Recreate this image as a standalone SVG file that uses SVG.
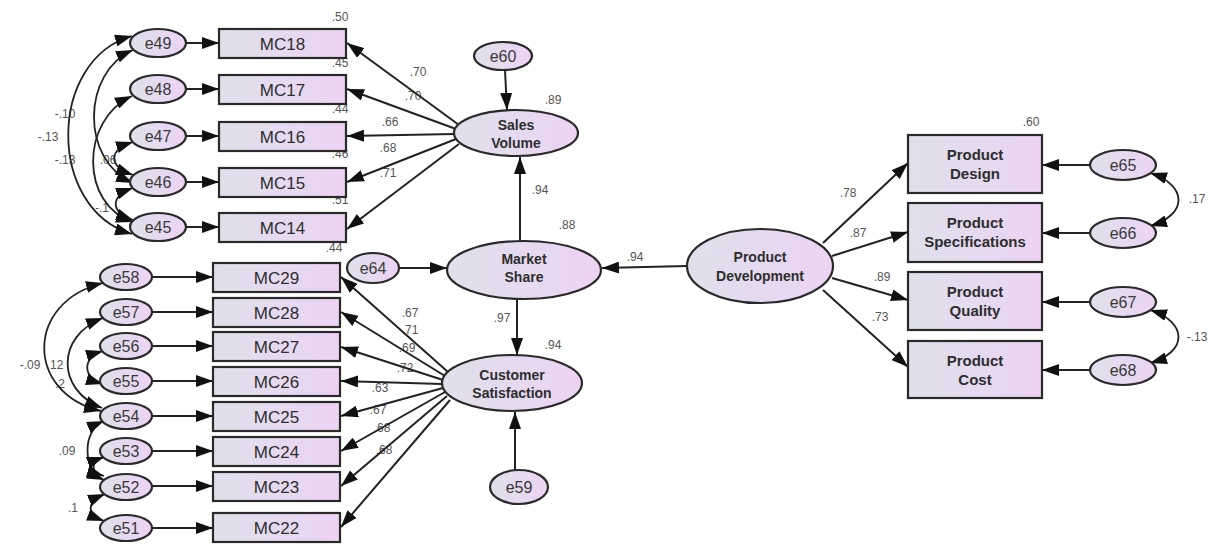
<svg xmlns="http://www.w3.org/2000/svg" width="1211" height="544" viewBox="0 0 1211 544">
<defs>
<linearGradient id="g" x1="0" y1="0" x2="1" y2="0">
<stop offset="0" stop-color="#dfe0ec"/>
<stop offset="1" stop-color="#edd3f3"/>
</linearGradient>
<marker id="ah" markerUnits="userSpaceOnUse" markerWidth="17" markerHeight="12" refX="17" refY="6" orient="auto-start-reverse">
<path d="M0,0 L17,6 L0,12 z" fill="#111"/>
</marker>
</defs>
<style>
rect.box{fill:url(#g);stroke:#2a2a2a;stroke-width:2.2}
ellipse.ov{fill:url(#g);stroke:#2a2a2a;stroke-width:2.2}
.mc{font-family:"Liberation Sans",Arial,sans-serif;font-size:17px;fill:#2e2e2e;text-anchor:middle}
.e{font-family:"Liberation Sans",Arial,sans-serif;font-size:16px;fill:#3a3a3a;text-anchor:middle}
.lv{font-family:"Liberation Sans",Arial,sans-serif;font-size:14px;font-weight:bold;fill:#2e2e2e;text-anchor:middle}
.pb{font-family:"Liberation Sans",Arial,sans-serif;font-size:15px;font-weight:bold;fill:#2e2e2e;text-anchor:middle}
.n{font-family:"Liberation Sans",Arial,sans-serif;font-size:12px;fill:#555;text-anchor:middle}
.a{fill:none;stroke:#222;stroke-width:2;marker-end:url(#ah)}
.cv{fill:none;stroke:#222;stroke-width:1.8;marker-start:url(#ah);marker-end:url(#ah)}
</style>
<rect width="1211" height="544" fill="#fff"/>

<g id="labels">
<text class="n" x="340" y="21">.50</text>
<text class="n" x="340" y="67">.45</text>
<text class="n" x="340" y="113">.44</text>
<text class="n" x="340" y="158">.46</text>
<text class="n" x="340" y="204">.51</text>
<text class="n" x="334" y="252">.44</text>
<text class="n" x="329" y="289">.56</text>
<text class="n" x="329" y="324">.49</text>
<text class="n" x="329" y="359">.52</text>
<text class="n" x="329" y="393">.39</text>
<text class="n" x="329" y="428">.44</text>
<text class="n" x="329" y="463">.46</text>
<text class="n" x="329" y="501">.47</text>
<text class="n" x="418" y="76">.70</text>
<text class="n" x="413" y="100">.70</text>
<text class="n" x="390" y="126">.66</text>
<text class="n" x="388" y="152">.68</text>
<text class="n" x="388" y="177">.71</text>
<text class="n" x="410" y="317">.67</text>
<text class="n" x="410" y="334">.71</text>
<text class="n" x="407" y="352">.69</text>
<text class="n" x="405" y="372">.72</text>
<text class="n" x="380" y="392">.63</text>
<text class="n" x="378" y="414">.67</text>
<text class="n" x="382" y="432">.68</text>
<text class="n" x="384" y="454">.68</text>
<text class="n" x="553" y="104">.89</text>
<text class="n" x="540" y="194">.94</text>
<text class="n" x="567" y="229">.88</text>
<text class="n" x="502" y="322">.97</text>
<text class="n" x="553" y="349">.94</text>
<text class="n" x="635" y="261">.94</text>
<text class="n" x="848" y="197">.78</text>
<text class="n" x="858" y="237">.87</text>
<text class="n" x="882" y="281">.89</text>
<text class="n" x="880" y="321">.73</text>
<text class="n" x="1031" y="126">.60</text>
<text class="n" x="1030" y="193">.75</text>
<text class="n" x="1030" y="262">.79</text>
<text class="n" x="1030" y="331">.54</text>
<text class="n" x="1197" y="203">.17</text>
<text class="n" x="1197" y="341">-.13</text>
<text class="n" x="65" y="118">-.10</text>
<text class="n" x="48" y="141">-.13</text>
<text class="n" x="65" y="164">-.13</text>
<text class="n" x="108" y="164">.06</text>
<text class="n" x="102" y="212">-.1</text>
<text class="n" x="30" y="369">-.09</text>
<text class="n" x="55" y="369">.12</text>
<text class="n" x="60" y="388">.2</text>
<text class="n" x="67" y="455">.09</text>
<text class="n" x="73" y="512">.1</text>
</g>

<g id="connectors">
<line class="a" x1="186" y1="43" x2="219" y2="43"/>
<line class="a" x1="186" y1="89" x2="219" y2="89"/>
<line class="a" x1="186" y1="136" x2="219" y2="136"/>
<line class="a" x1="186" y1="182" x2="219" y2="182"/>
<line class="a" x1="186" y1="227" x2="219" y2="227"/>
<line class="a" x1="152" y1="277" x2="213" y2="277"/>
<line class="a" x1="152" y1="312" x2="213" y2="312"/>
<line class="a" x1="152" y1="346" x2="213" y2="346"/>
<line class="a" x1="152" y1="381" x2="213" y2="381"/>
<line class="a" x1="152" y1="416" x2="213" y2="416"/>
<line class="a" x1="152" y1="451" x2="213" y2="451"/>
<line class="a" x1="152" y1="486" x2="213" y2="486"/>
<line class="a" x1="152" y1="528" x2="213" y2="528"/>
<line class="a" x1="459" y1="125" x2="347" y2="43"/>
<line class="a" x1="456" y1="129" x2="347" y2="89"/>
<line class="a" x1="455" y1="134" x2="347" y2="136"/>
<line class="a" x1="456" y1="139" x2="347" y2="182"/>
<line class="a" x1="459" y1="144" x2="347" y2="229"/>
<line class="a" x1="448" y1="372" x2="341" y2="277"/>
<line class="a" x1="445" y1="376" x2="341" y2="312"/>
<line class="a" x1="443" y1="380" x2="341" y2="347"/>
<line class="a" x1="442" y1="384" x2="341" y2="381"/>
<line class="a" x1="443" y1="388" x2="341" y2="416"/>
<line class="a" x1="445" y1="392" x2="341" y2="451"/>
<line class="a" x1="447" y1="396" x2="341" y2="486"/>
<line class="a" x1="450" y1="400" x2="341" y2="527"/>
<line class="a" x1="505" y1="70" x2="507" y2="110"/>
<line class="a" x1="520" y1="241" x2="520" y2="157"/>
<line class="a" x1="517" y1="298" x2="517" y2="355"/>
<line class="a" x1="515" y1="470" x2="515" y2="412"/>
<line class="a" x1="399" y1="268" x2="447" y2="268"/>
<line class="a" x1="687" y1="266" x2="602" y2="268"/>
<line class="a" x1="823" y1="243" x2="908" y2="163"/>
<line class="a" x1="832" y1="256" x2="908" y2="232"/>
<line class="a" x1="832" y1="278" x2="908" y2="300"/>
<line class="a" x1="823" y1="290" x2="908" y2="367"/>
<line class="a" x1="1090" y1="165" x2="1042" y2="165"/>
<line class="a" x1="1090" y1="233" x2="1042" y2="233"/>
<line class="a" x1="1090" y1="302" x2="1042" y2="302"/>
<line class="a" x1="1090" y1="370" x2="1042" y2="370"/>
<path class="cv" d="M1150,173 C1188,185 1188,215 1150,226"/>
<path class="cv" d="M1150,310 C1188,322 1188,352 1150,363"/>
<path class="cv" d="M132,36 C47,60 47,210 132,234"/>
<path class="cv" d="M133,50 C82,72 80,160 133,183"/>
<path class="cv" d="M132,96 C80,120 80,205 133,222"/>
<path class="cv" d="M133,142 C108,150 108,166 133,175"/>
<path class="cv" d="M133,188 C110,196 110,212 133,220"/>
<path class="cv" d="M103,283 C25,302 25,393 101,411"/>
<path class="cv" d="M103,318 C56,336 56,390 102,408"/>
<path class="cv" d="M103,351 C82,357 82,378 103,384"/>
<path class="cv" d="M104,421 C82,430 82,470 104,480"/>
<path class="cv" d="M104,457 C90,462 90,472 104,476"/>
<path class="cv" d="M105,494 C86,502 86,514 104,521"/>
</g>

<g id="MC18"><rect class="box" x="219" y="29" width="127" height="29"/><text class="mc" x="282.5" y="49.5">MC18</text></g>
<g id="MC17"><rect class="box" x="219" y="75" width="127" height="29"/><text class="mc" x="282.5" y="95.5">MC17</text></g>
<g id="MC16"><rect class="box" x="219" y="122" width="127" height="29"/><text class="mc" x="282.5" y="142.5">MC16</text></g>
<g id="MC15"><rect class="box" x="219" y="168" width="127" height="29"/><text class="mc" x="282.5" y="188.5">MC15</text></g>
<g id="MC14"><rect class="box" x="219" y="213" width="127" height="29"/><text class="mc" x="282.5" y="233.5">MC14</text></g>

<g id="MC29"><rect class="box" x="213" y="263" width="127" height="29"/><text class="mc" x="276.5" y="283.5">MC29</text></g>
<g id="MC28"><rect class="box" x="213" y="298" width="127" height="29"/><text class="mc" x="276.5" y="318.5">MC28</text></g>
<g id="MC27"><rect class="box" x="213" y="332" width="127" height="29"/><text class="mc" x="276.5" y="352.5">MC27</text></g>
<g id="MC26"><rect class="box" x="213" y="367" width="127" height="29"/><text class="mc" x="276.5" y="387.5">MC26</text></g>
<g id="MC25"><rect class="box" x="213" y="402" width="127" height="29"/><text class="mc" x="276.5" y="422.5">MC25</text></g>
<g id="MC24"><rect class="box" x="213" y="437" width="127" height="29"/><text class="mc" x="276.5" y="457.5">MC24</text></g>
<g id="MC23"><rect class="box" x="213" y="472" width="127" height="29"/><text class="mc" x="276.5" y="492.5">MC23</text></g>
<g id="MC22"><rect class="box" x="213" y="513" width="127" height="29"/><text class="mc" x="276.5" y="533.5">MC22</text></g>

<g id="e49"><ellipse class="ov" cx="158" cy="43" rx="28" ry="14"/><text class="e" x="158" y="49">e49</text></g>
<g id="e48"><ellipse class="ov" cx="158" cy="89" rx="28" ry="14"/><text class="e" x="158" y="95">e48</text></g>
<g id="e47"><ellipse class="ov" cx="158" cy="136" rx="28" ry="14"/><text class="e" x="158" y="142">e47</text></g>
<g id="e46"><ellipse class="ov" cx="158" cy="182" rx="28" ry="14"/><text class="e" x="158" y="188">e46</text></g>
<g id="e45"><ellipse class="ov" cx="158" cy="227" rx="28" ry="14"/><text class="e" x="158" y="233">e45</text></g>

<g id="e58"><ellipse class="ov" cx="126" cy="277" rx="26" ry="13"/><text class="e" x="126" y="283">e58</text></g>
<g id="e57"><ellipse class="ov" cx="126" cy="312" rx="26" ry="13"/><text class="e" x="126" y="318">e57</text></g>
<g id="e56"><ellipse class="ov" cx="126" cy="346" rx="26" ry="13"/><text class="e" x="126" y="352">e56</text></g>
<g id="e55"><ellipse class="ov" cx="126" cy="381" rx="26" ry="13"/><text class="e" x="126" y="387">e55</text></g>
<g id="e54"><ellipse class="ov" cx="126" cy="416" rx="26" ry="13"/><text class="e" x="126" y="422">e54</text></g>
<g id="e53"><ellipse class="ov" cx="126" cy="451" rx="26" ry="13"/><text class="e" x="126" y="457">e53</text></g>
<g id="e52"><ellipse class="ov" cx="126" cy="487" rx="26" ry="13"/><text class="e" x="126" y="493">e52</text></g>
<g id="e51"><ellipse class="ov" cx="126" cy="528" rx="26" ry="13"/><text class="e" x="126" y="534">e51</text></g>

<g id="e60"><ellipse class="ov" cx="503" cy="56" rx="29" ry="14"/><text class="e" x="503" y="62">e60</text></g>
<g id="SalesVolume"><ellipse class="ov" cx="516" cy="133" rx="62" ry="23"/><text class="lv" x="516" y="130">Sales</text><text class="lv" x="516" y="148">Volume</text></g>
<g id="e64"><ellipse class="ov" cx="373" cy="268" rx="26" ry="15"/><text class="e" x="373" y="274">e64</text></g>
<g id="MarketShare"><ellipse class="ov" cx="524" cy="270" rx="77" ry="29"/><text class="lv" x="524" y="264">Market</text><text class="lv" x="524" y="282">Share</text></g>
<g id="CustomerSatisfaction"><ellipse class="ov" cx="512" cy="383" rx="70" ry="28"/><text class="lv" x="512" y="380">Customer</text><text class="lv" x="512" y="398">Satisfaction</text></g>
<g id="e59"><ellipse class="ov" cx="519" cy="487" rx="29" ry="17"/><text class="e" x="519" y="493">e59</text></g>
<g id="ProductDevelopment"><ellipse class="ov" cx="760" cy="266" rx="73" ry="37"/><text class="lv" x="760" y="262">Product</text><text class="lv" x="760" y="281">Development</text></g>

<g id="ProductDesign"><rect class="box" x="908" y="135" width="134" height="58"/><text class="pb" x="975" y="160">Product</text><text class="pb" x="975" y="179">Design</text></g>
<g id="ProductSpecifications"><rect class="box" x="908" y="203" width="134" height="59"/><text class="pb" x="975" y="228">Product</text><text class="pb" x="975" y="247">Specifications</text></g>
<g id="ProductQuality"><rect class="box" x="908" y="272" width="134" height="58"/><text class="pb" x="975" y="297">Product</text><text class="pb" x="975" y="316">Quality</text></g>
<g id="ProductCost"><rect class="box" x="908" y="341" width="134" height="57"/><text class="pb" x="975" y="366">Product</text><text class="pb" x="975" y="385">Cost</text></g>

<g id="e65"><ellipse class="ov" cx="1123" cy="165" rx="33" ry="15"/><text class="e" x="1123" y="171">e65</text></g>
<g id="e66"><ellipse class="ov" cx="1123" cy="233" rx="33" ry="15"/><text class="e" x="1123" y="239">e66</text></g>
<g id="e67"><ellipse class="ov" cx="1123" cy="302" rx="33" ry="15"/><text class="e" x="1123" y="308">e67</text></g>
<g id="e68"><ellipse class="ov" cx="1123" cy="370" rx="33" ry="15"/><text class="e" x="1123" y="376">e68</text></g>
</svg>
